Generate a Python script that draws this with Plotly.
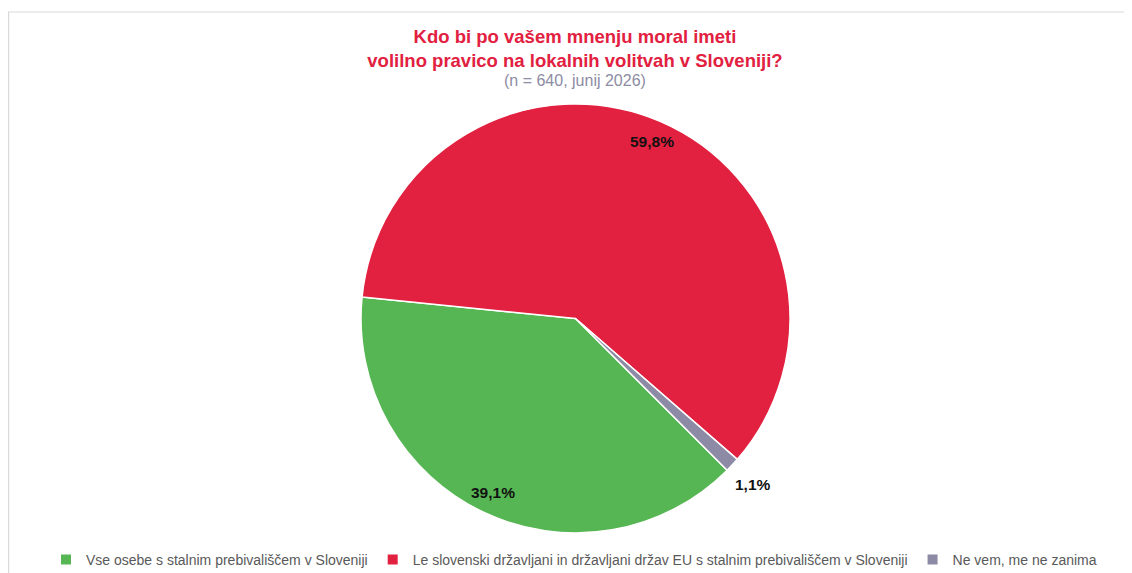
import math
import plotly.graph_objects as go

labels = [
    "Vse osebe s stalnim prebivališčem v Sloveniji",
    "Le slovenski državljani in državljani držav EU s stalnim prebivališčem v Sloveniji",
    "Ne vem, me ne zanima",
]
values = [39.1, 59.8, 1.1]
value_text = ["39,1%", "59,8%", "1,1%"]
colors = ["#56B653", "#E2203F", "#8C8AA4"]
label_radius_factor = [0.9, 0.9, 1.135]

# the page body has an 8px margin, so the figure is sized to fit the window
W, H = 1124, 565
CX, CY, R = 567.5, 310.5, 214.5  # pixel centre (y from top) and radius
ROTATION = 135
FONT = "Liberation Sans, Arial, sans-serif"

fig = go.Figure()
fig.add_trace(go.Pie(
    labels=labels,
    values=values,
    sort=False,
    direction="clockwise",
    rotation=ROTATION,
    marker=dict(colors=colors, line=dict(color="white", width=1.5)),
    textinfo="none",
    hoverinfo="label+percent",
    domain=dict(x=[(CX - R) / W, (CX + R) / W],
                y=[(H - CY - R) / H, (H - CY + R) / H]),
))

# percentage labels placed at slice mid-angles computed from the data
total = sum(values)
start = ROTATION
annotations = []
for v, t, f in zip(values, value_text, label_radius_factor):
    span = v / total * 360
    mid = math.radians(start + span / 2)
    start += span
    px = CX + R * f * math.sin(mid)
    py = CY - R * f * math.cos(mid)
    annotations.append(dict(
        x=px / W, y=1 - py / H, xref="paper", yref="paper",
        text=f"<b>{t}</b>", showarrow=False,
        font=dict(family=FONT, size=15.5, color="#111111"),
        xanchor="center", yanchor="middle",
    ))

annotations.append(dict(
    x=567 / W, y=1 - 72 / H, xref="paper", yref="paper",
    text="(n = 640, junij 2026)", showarrow=False,
    font=dict(family=FONT, size=16, color="#8C8CA3"),
    xanchor="center", yanchor="middle",
))

fig.update_layout(
    width=W, height=H,
    margin=dict(l=0, r=0, t=0, b=0, autoexpand=False),
    paper_bgcolor="white",
    plot_bgcolor="white",
    title=dict(
        text="<b>Kdo bi po vašem mnenju moral imeti<br>volilno pravico na lokalnih volitvah v Sloveniji?</b>",
        x=567 / W, xanchor="center",
        y=1 - 35 / H, yanchor="top",
        font=dict(family=FONT, size=18.5, color="#E2203F"),
    ),
    annotations=annotations,
    showlegend=True,
    legend=dict(
        orientation="h", x=566 / W, xanchor="center",
        y=1 - 552 / H, yanchor="middle",
        font=dict(family=FONT, size=14, color="#595959"),
        itemsizing="constant", traceorder="normal", itemwidth=30,
        bgcolor="rgba(0,0,0,0)",
    ),
    shapes=[dict(
        type="rect", xref="paper", yref="paper",
        x0=0.6 / W, x1=1.05, y0=-0.05, y1=1 - 4 / H,
        line=dict(color="#D9D9D9", width=1.2), fillcolor="rgba(0,0,0,0)",
        layer="below",
    )],
)

fig.write_html("out.html")
